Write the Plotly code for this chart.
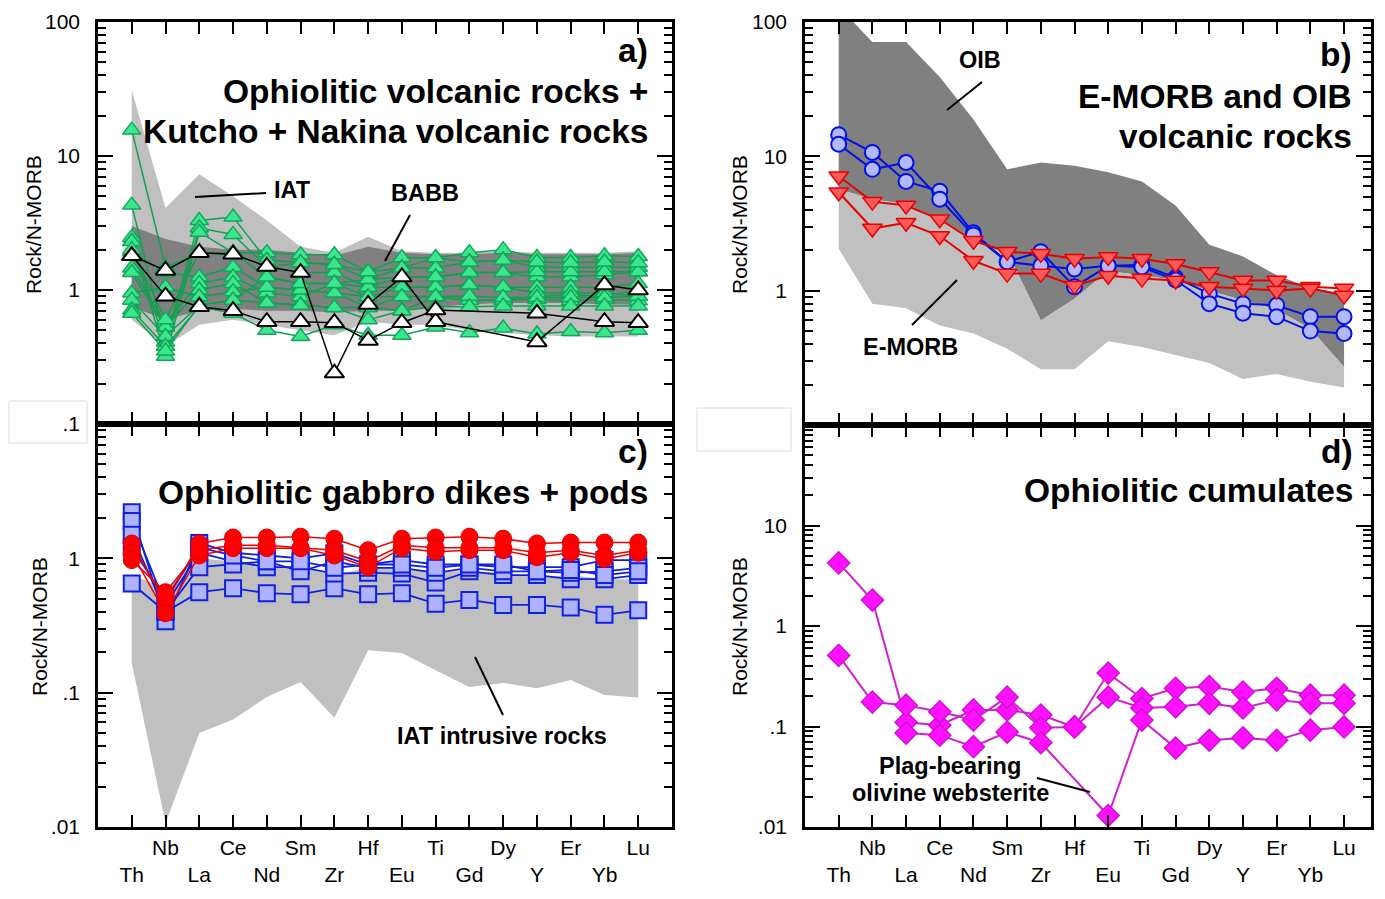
import plotly.graph_objects as go

FONT = "Liberation Sans"
OFF = 8              # page body margin of the html page
W, H = 1385 - OFF, 899 - OFF

ELEMENTS = ["Th", "Nb", "La", "Ce", "Nd", "Sm", "Zr", "Hf", "Eu", "Ti", "Gd", "Dy", "Y", "Er", "Yb", "Lu"]

# ---------------- Panel a ----------------
IAT_UP = [31, 4.1, 7.3, 5.0, 3.3, 2.1, 1.9, 2.5, 1.95, 1.9, 1.9, 1.95, 1.9, 1.9, 1.9, 1.95]
IAT_LO = [0.6, 0.38, 0.55, 0.6, 0.55, 0.5, 0.46, 0.58, 0.55, 0.55, 0.5, 0.48, 0.46, 0.45, 0.45, 0.45]
BABB_UP = [3.0, 2.4, 2.1, 2.0, 2.0, 1.9, 1.8, 2.1, 1.9, 1.85, 1.85, 1.9, 1.85, 1.85, 1.85, 1.9]
BABB_LO = [0.75, 0.6, 0.7, 0.72, 0.7, 0.7, 0.68, 0.7, 0.7, 0.75, 0.78, 0.8, 0.8, 0.8, 0.78, 0.78]

GREEN = [
    [15.6, 1.48, 1.9, 1.9, 1.9, 1.83, 1.83, 1.37, 1.74, 1.74, 1.9, 2.0, 1.75, 1.75, 1.8, 1.78],
    [4.3, 0.41, 3.3, 3.5, 1.67, 1.6, 1.55, 1.2, 1.46, 1.46, 1.62, 1.67, 1.48, 1.48, 1.48, 1.48],
    [2.47, 0.38, 2.9, 2.6, 1.48, 1.35, 1.35, 1.05, 1.25, 1.25, 1.35, 1.35, 1.25, 1.25, 1.3, 1.37],
    [2.3, 0.32, 2.7, 1.9, 1.25, 1.12, 1.12, 0.89, 1.05, 1.05, 1.09, 1.05, 1.05, 1.05, 1.05, 1.12],
    [1.93, 1.35, 1.25, 1.48, 1.05, 1.0, 0.95, 0.74, 0.89, 0.89, 0.84, 0.84, 0.9, 0.92, 0.9, 1.0],
    [1.46, 0.57, 1.12, 1.25, 0.95, 0.89, 1.12, 1.05, 1.05, 1.05, 1.09, 1.05, 0.95, 0.95, 0.95, 0.9],
    [1.35, 0.53, 1.0, 1.12, 0.8, 0.77, 0.74, 0.6, 0.7, 0.89, 0.84, 0.84, 0.85, 0.83, 0.85, 0.83],
    [0.95, 1.05, 0.89, 0.97, 1.05, 1.0, 0.95, 0.89, 0.89, 0.89, 0.9, 0.88, 0.88, 0.88, 0.88, 0.9],
    [0.84, 0.45, 0.77, 0.84, 1.25, 1.12, 1.12, 1.2, 1.25, 1.25, 1.35, 1.35, 1.37, 1.37, 1.37, 1.37],
    [0.71, 0.38, 0.75, 0.67, 0.5, 0.45, 0.55, 0.46, 0.46, 0.53, 0.48, 0.52, 0.47, 0.49, 0.48, 0.5],
    [0.67, 0.35, 0.77, 0.84, 0.8, 0.77, 0.74, 0.74, 0.7, 0.75, 0.75, 0.76, 0.76, 0.76, 0.76, 0.76],
    [2.0, 0.6, 1.9, 1.9, 1.48, 1.6, 1.55, 1.37, 1.46, 1.74, 1.62, 1.67, 1.62, 1.6, 1.62, 1.6],
]
BLACK = [
    [1.8, 1.4, 1.9, 1.85, 1.5, 1.35, 0.24, 0.78, 1.25, 0.58, None, None, 0.41, None, 1.09, 1.0],
    [1.8, 0.9, 0.75, 0.7, 0.58, 0.58, 0.57, 0.42, 0.57, 0.71, None, None, 0.67, None, 0.58, 0.57],
]

# ---------------- Panel b ----------------
OIB_UP = [130, 71, 71, 39, 18.8, 8.0, 9.0, 8.5, 7.6, 6.5, 4.3, 2.2, 1.8, 1.3, 1.05, 0.95]
EMORB_UP = [5.7, 4.8, 4.4, 3.4, 2.4, 1.94, 0.6, 0.87, 1.4, 1.3, 1.2, 1.0, 0.85, 0.72, 0.52, 0.27]
EMORB_LO = [2.05, 0.8, 0.74, 0.55, 0.48, 0.37, 0.26, 0.26, 0.42, 0.38, 0.33, 0.29, 0.22, 0.24, 0.21, 0.19]

BLUE_B = [
    [14.5, 10.7, 6.5, 5.5, 2.7, 1.64, 1.95, 1.07, 1.53, 1.55, 1.25, 0.95, 0.8, 0.78, 0.64, 0.64],
    [12.3, 8.0, 9.0, 4.8, 2.6, 1.64, 1.53, 1.45, 1.53, 1.5, 1.2, 0.8, 0.68, 0.64, 0.5, 0.48],
]
RED_B = [
    [7.1, 4.6, 4.3, 3.4, 2.35, 1.95, 1.88, 1.73, 1.78, 1.73, 1.58, 1.38, 1.19, 1.19, 1.07, 1.04],
    [5.4, 2.9, 3.2, 2.55, 1.67, 1.34, 1.34, 1.09, 1.29, 1.23, 1.19, 1.07, 1.04, 1.0, 1.04, 0.92],
]

# ---------------- Panel c ----------------
IATI_UP = [0.75, 0.6, 1.0, 0.95, 0.9, 0.85, 0.75, 0.85, 0.85, 0.8, 0.8, 0.78, 0.72, 0.75, 0.7, 0.7]
IATI_LO = [0.166, 0.0107, 0.05, 0.063, 0.093, 0.12, 0.065, 0.207, 0.197, 0.147, 0.11, 0.118, 0.108, 0.124, 0.096, 0.092]

BLUE_C = [
    [0.65, 0.4, 0.56, 0.6, 0.55, 0.54, 0.6, 0.54, 0.55, 0.46, 0.49, 0.45, 0.45, 0.43, 0.38, 0.41],
    [2.2, 0.34, 1.3, 1.1, 1.05, 1.0, 1.09, 0.9, 0.97, 0.9, 0.9, 0.86, 0.86, 0.86, 0.97, 0.97],
    [1.9, 0.45, 1.1, 0.95, 0.86, 0.86, 0.77, 0.78, 0.77, 0.66, 0.8, 0.75, 0.75, 0.7, 0.7, 0.75],
    [1.5, 0.4, 0.86, 0.9, 0.95, 0.8, 0.95, 0.85, 0.85, 0.78, 0.85, 0.8, 0.8, 0.78, 0.8, 0.85],
    [1.2, 0.5, 1.2, 1.05, 0.95, 0.95, 0.85, 0.9, 0.9, 0.85, 0.9, 0.9, 0.8, 0.82, 0.75, 0.8],
]
RED_C = [
    [1.29, 0.47, 1.29, 1.43, 1.43, 1.45, 1.4, 1.15, 1.4, 1.43, 1.45, 1.4, 1.29, 1.31, 1.31, 1.31],
    [1.1, 0.39, 1.05, 1.19, 1.19, 1.19, 1.05, 0.86, 1.19, 1.12, 1.15, 1.15, 1.02, 1.1, 0.99, 1.1],
    [0.97, 0.56, 1.15, 1.25, 1.25, 1.2, 1.15, 0.95, 1.25, 1.2, 1.2, 1.2, 1.1, 1.15, 1.05, 1.15],
]

# ---------------- Panel d ----------------
MAG_D = [
    [4.24, 1.81, 0.11, 0.103, 0.146, 0.146, 0.13, 0.099, 0.34, 0.19, 0.24, 0.25, 0.22, 0.24, 0.205, 0.205],
    [0.51, 0.175, 0.163, 0.14, 0.116, 0.196, 0.097, 0.099, 0.196, 0.153, 0.157, 0.17, 0.153, 0.184, 0.17, 0.17],
    [None, None, 0.086, 0.082, 0.063, 0.088, 0.069, None, 0.013, 0.116, 0.061, 0.073, 0.077, 0.073, 0.092, 0.099],
]

IDX = list(range(len(ELEMENTS)))


def px(x):
    return (x - OFF) / W


def py(y):
    return 1 - (y - OFF) / H


fig = go.Figure()


def envelope(upper, lower, color, xa, ya):
    fig.add_trace(go.Scatter(
        x=IDX + IDX[::-1], y=upper + lower[::-1], fill="toself", fillcolor=color,
        mode="lines", line=dict(width=0, color=color), hoverinfo="skip",
        showlegend=False, xaxis=xa, yaxis=ya))


def series(vals, xa, ya, symbol, size, fill, edge, lcol, lw=1.5, ew=1.5):
    fig.add_trace(go.Scatter(
        x=IDX, y=vals, mode="lines+markers", connectgaps=True,
        line=dict(color=lcol, width=lw),
        marker=dict(symbol=symbol, size=size, color=fill, line=dict(color=edge, width=ew)),
        showlegend=False, xaxis=xa, yaxis=ya, cliponaxis=True))


# Panel a (x, y)
envelope(IAT_UP, IAT_LO, "#c0c0c0", "x", "y")
envelope(BABB_UP, BABB_LO, "#808080", "x", "y")
for s in GREEN:
    series(s, "x", "y", "triangle-up", 16, "#3ce68e", "#12a85a", "#12a050", 1.5, 1.5)
for s in BLACK:
    series(s, "x", "y", "triangle-up", 17, "white", "black", "black", 1.5, 2)

# Panel b (x2, y2)
envelope(OIB_UP, EMORB_UP, "#808080", "x2", "y2")
envelope(EMORB_UP, EMORB_LO, "#c0c0c0", "x2", "y2")
for s in BLUE_B:
    series(s, "x2", "y2", "circle", 15, "#b4b8ff", "#0010e8", "#0010e8", 2, 2)
for s in RED_B:
    series(s, "x2", "y2", "triangle-down", 17, "#ff5a5a", "#e80000", "#e80000", 2, 1.5)

# Panel c (x3, y3)
envelope(IATI_UP, IATI_LO, "#c0c0c0", "x3", "y3")
for s in BLUE_C:
    series(s, "x3", "y3", "square", 16, "#aeb2ff", "#1020e0", "#1020e0", 1.8, 2)
for s in RED_C:
    series(s, "x3", "y3", "circle", 17, "#ff0000", "#e80000", "#ee0000", 1.5, 1)

# Panel d (x4, y4)
for s in MAG_D:
    series(s, "x4", "y4", "diamond", 17, "#ff10ff", "#d010d0", "#d020d0", 2, 1.5)

TICKTEXT = [e if i % 2 else "<br>" + e for i, e in enumerate(ELEMENTS)]


def minor_vals(lo, hi):
    out = []
    for e in range(lo, hi):
        for k in range(2, 10):
            out.append(k * 10 ** e)
    return out


def xcfg(domain, rng, anchor, labels):
    return dict(domain=domain, range=rng, anchor=anchor, tickmode="array",
                tickvals=IDX, ticktext=TICKTEXT, showticklabels=labels,
                ticks="inside", ticklen=12, tickwidth=1.5, tickcolor="black",
                showline=True, linewidth=2.5, linecolor="black", mirror="allticks",
                showgrid=False, zeroline=False, ticklabelstandoff=0, automargin=False,
                tickfont=dict(size=21, family=FONT, color="black"))


def ycfg(domain, lo, hi, anchor, vals, texts):
    return dict(domain=domain, type="log", range=[lo, hi], anchor=anchor,
                tickmode="array", tickvals=vals, ticktext=texts,
                ticks="inside", ticklen=15, tickwidth=1.5, tickcolor="black",
                showline=True, linewidth=2.5, linecolor="black", mirror="allticks",
                showgrid=False, zeroline=False, ticklabelstandoff=11, automargin=False,
                tickfont=dict(size=21, family=FONT, color="black"),
                minor=dict(tickmode="array", tickvals=minor_vals(lo, hi), ticks="inside",
                           ticklen=8, tickwidth=1.5, tickcolor="black", showgrid=False))


XA = [px(98), px(672)]
XB = [px(805), px(1371)]
YA = [py(424), py(22)]
YC = [py(827), py(424)]
YB = [py(425), py(22)]
YD = [py(827), py(425)]
XR_A = [-1.0, 16.0]
XR_B = [-1.0, 15.8]

fig.update_layout(
    width=W, height=H, margin=dict(l=0, r=0, t=0, b=0, autoexpand=False),
    paper_bgcolor="white", plot_bgcolor="white", showlegend=False,
    font=dict(family=FONT, color="black"),
    xaxis=xcfg(XA, XR_A, "y", False),
    yaxis=ycfg(YA, -1, 2, "x", [0.1, 1, 10, 100], [".1", "1", "10", "100"]),
    xaxis2=xcfg(XB, XR_B, "y2", False),
    yaxis2=ycfg(YB, -1, 2, "x2", [0.1, 1, 10, 100], ["", "1", "10", "100"]),
    xaxis3=xcfg(XA, XR_A, "y3", True),
    yaxis3=ycfg(YC, -2, 1, "x3", [0.01, 0.1, 1, 10], [".01", ".1", "1", ""]),
    xaxis4=xcfg(XB, XR_B, "y4", True),
    yaxis4=ycfg(YD, -2, 2, "x4", [0.01, 0.1, 1, 10, 100], [".01", ".1", "1", "10", ""]),
)

ann = []


def text(x, y, s, size, xanchor="center", bold=True, angle=0):
    ann.append(dict(x=px(x), y=py(y), xref="paper", yref="paper", text=("<b>%s</b>" % s) if bold else s,
                    showarrow=False, xanchor=xanchor, yanchor="middle", textangle=angle,
                    font=dict(size=size, family=FONT, color="black")))


TS = 33.5
AS = 23.5
text(650, 50, "a)", TS, "right")
text(650, 91, "Ophiolitic volcanic rocks +", TS, "right")
text(650, 131, "Kutcho + Nakina volcanic rocks", TS, "right")
text(292, 190, "IAT", AS)
text(425, 193, "BABB", AS)

text(650, 452, "c)", TS, "right")
text(650, 492, "Ophiolitic gabbro dikes + pods", TS, "right")
text(502, 736, "IAT intrusive rocks", AS)

text(1354, 55, "b)", TS, "right")
text(1354, 96, "E-MORB and OIB", TS, "right")
text(1354, 136, "volcanic rocks", TS, "right")
text(980, 60, "OIB", AS)
text(910, 347, "E-MORB", AS)

text(1355, 452, "d)", TS, "right")
text(1355, 490, "Ophiolitic cumulates", TS, "right")
text(950, 766, "Plag-bearing", AS)
text(950, 793, "olivine websterite", AS)

for (x, y) in [(33, 225), (39, 627), (739, 225), (739, 627)]:
    text(x, y, "Rock/N-MORB", 21, bold=False, angle=-90)

fig.update_layout(annotations=ann)

shapes = []


def seg(x0, y0, x1, y1):
    shapes.append(dict(type="line", xref="paper", yref="paper", x0=px(x0), y0=py(y0),
                       x1=px(x1), y1=py(y1), line=dict(color="black", width=2)))


seg(195, 197, 266, 193)
seg(410, 215, 385, 261)
seg(475, 657, 503, 715)
seg(947, 110, 982, 82)
seg(912, 325, 957, 280)
seg(1037, 778, 1090, 792)

for (x0, y0, x1, y1) in [(9, 401, 87, 443), (697, 408, 791, 451)]:
    shapes.append(dict(type="rect", xref="paper", yref="paper", x0=px(x0), y0=py(y0),
                       x1=px(x1), y1=py(y1), layer="below", fillcolor="white",
                       line=dict(color="#dcdcdc", width=1)))

fig.update_layout(shapes=shapes)

fig.write_html("out.html")
